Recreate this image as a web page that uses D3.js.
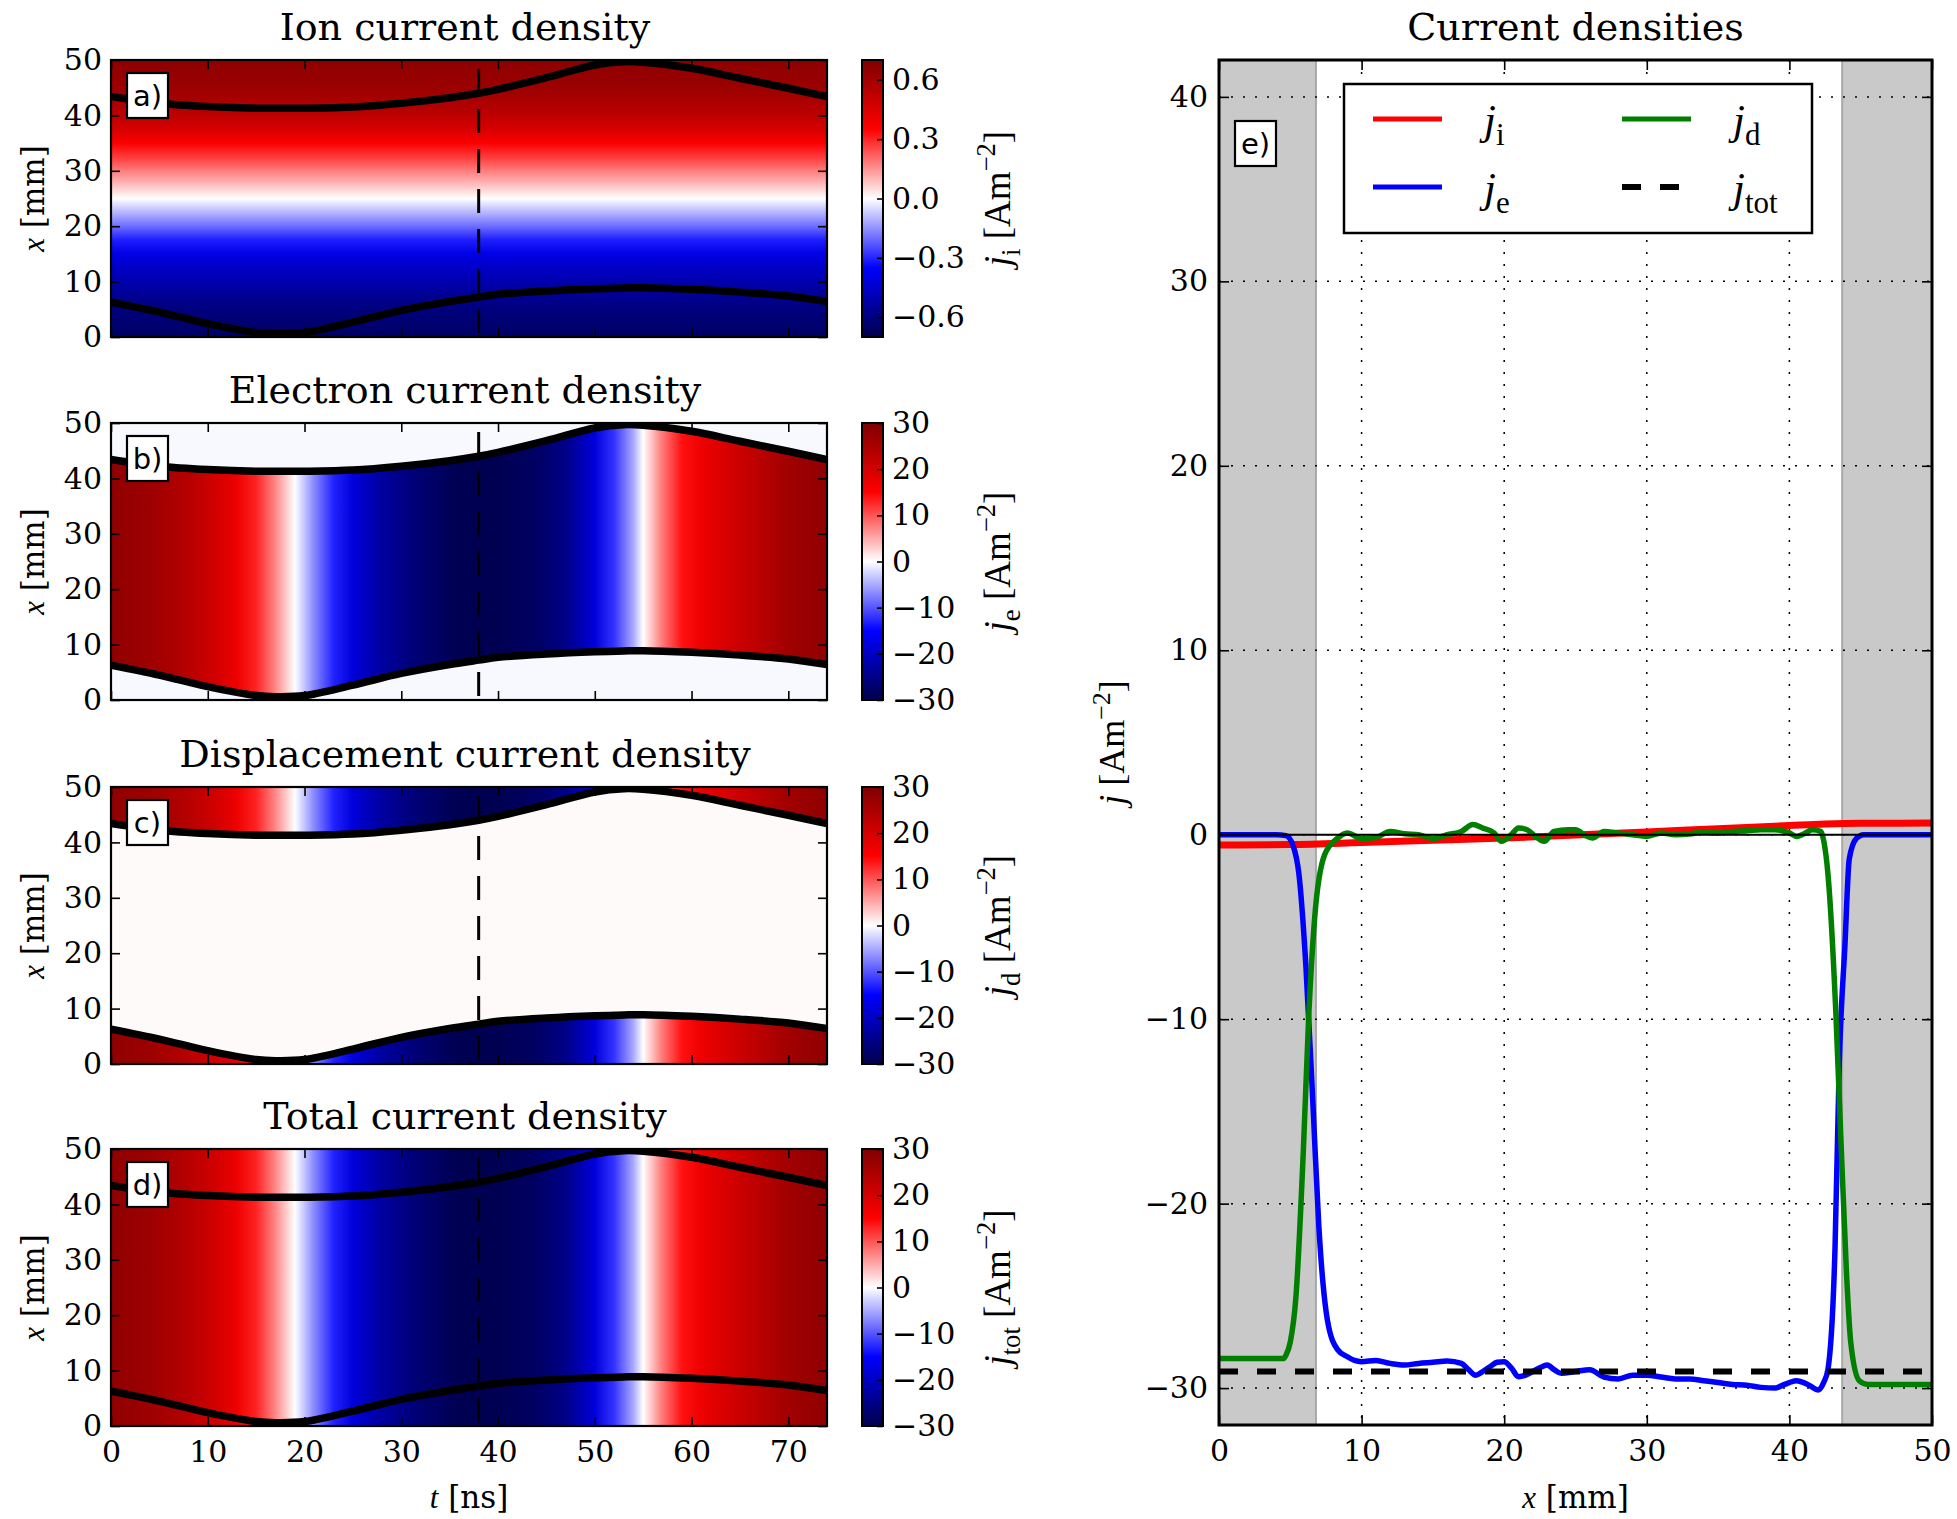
<!DOCTYPE html>
<html>
<head>
<meta charset="utf-8">
<script src="https://cdn.jsdelivr.net/npm/d3@7"></script>
<style>
  body { margin: 0; background: #ffffff; }
  svg { display: block; }
  text { white-space: pre; }
</style>
</head>
<body>
<svg id="fig" width="1957" height="1519"></svg>
<script>
// ---------- axes of the space–time maps (panels a–d) ----------
const tDomain = [0, 74];            // time [ns]
const xDomain = [0, 50];            // position [mm]
const tTicks = [0, 10, 20, 30, 40, 50, 60, 70];
const xTicks = [0, 10, 20, 30, 40, 50];
const tSnapshot = 38;               // time of the profile in panel e

// ---------- sheath edges ----------
const sheathT    = [0, 5, 10, 15, 17, 20, 25, 30, 35, 38, 40, 45, 50, 53, 55, 60, 65, 70, 74];
const sheathLow  = [6.3, 4.5, 2.4, 0.8, 0.6, 0.8, 2.7, 4.8, 6.4, 7.2, 7.7, 8.3, 8.7, 8.85, 8.9, 8.6, 8.1, 7.4, 6.4];
const sheathHigh = [43.4, 42.2, 41.6, 41.3, 41.3, 41.3, 41.5, 42.2, 43.2, 44.0, 44.7, 46.8, 49.1, 49.7, 49.6, 48.5, 46.7, 44.9, 43.4];

// ---------- total current density vs time [A m^-2] ----------
const totT = [0, 4, 8, 11, 13, 15, 17, 19, 21, 23, 25, 28, 32, 36, 40, 44, 47, 50, 52, 54, 55, 57, 59, 61, 64, 67, 70, 74];
const totJ = [28, 26.5, 23.5, 20, 17, 13, 7, 0, -7, -13, -18, -23, -27, -29.5, -29.5, -28, -25, -18, -12, -5, 0, 8, 14, 17, 20, 23, 26, 28];

// ---------- ion current density vs position [A m^-2] ----------
const ionX = [0, 2.5, 5, 7.5, 10, 12.5, 15, 17.5, 20, 22.5, 25, 27.5, 30, 32.5, 35, 37.5, 40, 42.5, 45, 47.5, 50];
const ionJ = [-0.65, -0.63, -0.6, -0.56, -0.51, -0.46, -0.40, -0.31, -0.2, -0.1, 0.0, 0.09, 0.18, 0.27, 0.36, 0.46, 0.53, 0.58, 0.62, 0.64, 0.66];

// residual levels: electron current in the sheaths, displacement current in the bulk
const jeOutside = -0.4;
const jdInside = 0.3;

const panelTitles = ["Ion current density", "Electron current density", "Displacement current density", "Total current density"];
const panelTags = ["a)", "b)", "c)", "d)"];
const cbarMax = [0.7, 30, 30, 30];
const cbarTicksIon = [-0.6, -0.3, 0.0, 0.3, 0.6];
const cbarTicksJ = [-30, -20, -10, 0, 10, 20, 30];
const cbarSubs = ["i", "e", "d", "tot"];

// ---------- panel e: profiles at t = 38 ns ----------
const eTitle = "Current densities";
const eXTicks = [0, 10, 20, 30, 40, 50];
const eYTicks = [-30, -20, -10, 0, 10, 20, 30, 40];
const eYDomain = [-32, 42];
const sheathBands = [[0, 6.8], [43.7, 50]];

const jiX = [0, 5, 10, 15, 20, 25, 30, 35, 40, 42.5, 45, 50];
const jiV = [-0.56, -0.53, -0.42, -0.3, -0.18, -0.02, 0.15, 0.33, 0.5, 0.58, 0.62, 0.63];

const jeX = [0, 4, 4.7, 5.2, 5.6, 6.1, 6.6, 7.0, 7.6, 8.3, 9.0, 9.5, 10, 11, 12, 13, 14, 15, 16, 17, 17.5, 18, 18.5, 19, 19.5, 20, 20.5, 21, 21.5, 22, 22.5, 23, 23.5, 24, 25, 26, 27, 28, 29, 30, 31, 32, 33, 34, 35, 36, 37, 38, 39, 39.5, 40, 40.5, 41, 41.5, 42, 42.4, 42.7, 43.2, 43.5, 43.9, 44.2, 44.7, 45.2, 50];
const jeV = [0, 0, -0.05, -0.6, -2.1, -7.2, -14.8, -21.2, -26.3, -27.9, -28.3, -28.5, -28.57, -28.5, -28.66, -28.75, -28.66, -28.6, -28.53, -28.66, -29.0, -29.3, -29.1, -28.84, -28.6, -28.57, -28.9, -29.38, -29.3, -29.1, -28.9, -28.75, -29.0, -29.2, -29.1, -29.0, -29.4, -29.5, -29.3, -29.3, -29.4, -29.5, -29.5, -29.6, -29.7, -29.8, -29.85, -29.96, -30.0, -29.85, -29.7, -29.6, -29.7, -29.9, -30.1, -29.7, -29.0, -22.4, -12.3, -5.9, -1.3, -0.2, 0, 0];

const jdX = [0, 4.5, 4.7, 5.0, 5.4, 5.9, 6.3, 6.7, 7.4, 8.3, 9, 10, 11, 12, 13, 14, 15, 16, 17, 17.8, 18.5, 19.3, 19.8, 20.5, 21, 21.6, 22.2, 22.8, 23.5, 24.5, 25, 25.7, 26.2, 27, 28, 29, 30, 31, 32, 33, 34, 35, 36, 37, 38, 39, 40, 40.5, 41, 41.6, 42.2, 42.4, 42.7, 43.26, 43.6, 44.0, 44.3, 44.9, 45.5, 50];
const jdV = [-28.4, -28.4, -28.2, -27.5, -25.0, -17.4, -9.7, -4.6, -1.1, -0.2, 0.09, -0.2, -0.15, 0.18, 0.05, 0, -0.2, 0, 0.18, 0.55, 0.36, 0.09, -0.36, 0, 0.36, 0.27, -0.09, -0.36, 0.18, 0.27, 0.27, -0.04, -0.18, 0.18, 0.09, 0, -0.09, 0.09, 0, 0.04, 0.15, 0.1, 0.18, 0.22, 0.27, 0.27, 0.1, -0.09, 0.04, 0.27, 0.18, -0.3, -2.1, -9.7, -16.3, -23.7, -27.5, -29.6, -29.8, -29.8];

const jtotX = [0, 50];
const jtotV = [-29.1, -29.1];

const legendItems = [
  { sub: "i",   color: "#ff0000", dash: null },
  { sub: "e",   color: "#0000ff", dash: null },
  { sub: "d",   color: "#007f00", dash: null },
  { sub: "tot", color: "#000000", dash: "19,19" }
];

// ---------- look ----------
const SERIF = "'DejaVu Serif', serif";
const MATH  = "'Liberation Serif', 'DejaVu Serif', serif";
const SANS  = "'DejaVu Sans', sans-serif";
const TICK_FS = 30, TITLE_FS = 38, LABEL_FS = 31, CBAR_LABEL_FS = 37;

// matplotlib "seismic" colormap anchors
const cmapStops  = [0, 0.25, 0.5, 0.75, 1];
const cmapColors = ["#00004c", "#0000ff", "#ffffff", "#ff0000", "#7f0000"];
function colorScale(vmax) {
  return d3.scaleLinear()
    .domain(cmapStops.map(s => (2 * s - 1) * vmax))
    .range(cmapColors)
    .interpolate(d3.interpolateRgb)
    .clamp(true);
}

const svg = d3.select("#fig");
const defs = svg.append("defs");
svg.append("rect").attr("width", 1957).attr("height", 1519).attr("fill", "#fff");

// text with italic symbol, sub- and superscripts
function richText(sel, parts, size) {
  let shift = 0;
  parts.forEach(p => {
    const target = p.sub ? size * 0.26 : p.sup ? -size * 0.4 : 0;
    sel.append("tspan")
      .text(p.t)
      .attr("font-family", p.math ? MATH : SERIF)
      .attr("font-style", p.it ? "italic" : "normal")
      .attr("font-size", (p.sub || p.sup) ? size * 0.72 : size)
      .attr("dy", target - shift);
    shift = target;
  });
}

function styleAxis(g, size) {
  g.select(".domain").remove();
  g.attr("font-size", size).attr("font-family", SERIF);
  g.selectAll(".tick line").attr("stroke", "#000").attr("stroke-width", 1.6);
  g.selectAll(".tick text").attr("fill", "#000");
}

function tagBox(x, y, label) {
  svg.append("rect").attr("x", x).attr("y", y).attr("width", 41).attr("height", 45)
    .attr("fill", "#fff").attr("stroke", "#000").attr("stroke-width", 2.2);
  svg.append("text").attr("x", x + 20.5).attr("y", y + 33)
    .attr("text-anchor", "middle").attr("font-family", SANS).attr("font-size", 29)
    .text(label);
}

// ---------- panels a–d ----------
const LEFT = { x0: 111, x1: 827, tops: [60, 423, 787, 1149], h: 277, cbX: 862, cbW: 21 };
const sheath = sheathT.map((t, k) => ({ t, lo: sheathLow[k], hi: sheathHigh[k] }));
const totSeries = totT.map((t, k) => ({ t, v: totJ[k] }));
const ionSeries = ionX.map((x, k) => ({ x, v: ionJ[k] }));

for (let i = 0; i < 4; i++) {
  const top = LEFT.tops[i], bottom = top + LEFT.h;
  const sx = d3.scaleLinear().domain(tDomain).range([LEFT.x0, LEFT.x1]);
  const sy = d3.scaleLinear().domain(xDomain).range([bottom, top]);
  const cs = colorScale(cbarMax[i]);
  const W = LEFT.x1 - LEFT.x0;

  const clipId = "plotclip" + i;
  defs.append("clipPath").attr("id", clipId)
    .append("rect").attr("x", LEFT.x0).attr("y", top).attr("width", W).attr("height", LEFT.h);
  const g = svg.append("g").attr("clip-path", `url(#${clipId})`);

  const area = d3.area().x(d => sx(d.t)).y0(d => sy(d.lo)).y1(d => sy(d.hi)).curve(d3.curveCatmullRom);

  if (i === 0) {
    // ion current: profile along x
    const gid = "iongrad";
    const grad = defs.append("linearGradient").attr("id", gid)
      .attr("gradientUnits", "userSpaceOnUse")
      .attr("x1", 0).attr("x2", 0).attr("y1", sy(xDomain[0])).attr("y2", sy(xDomain[1]));
    grad.selectAll("stop").data(ionSeries).join("stop")
      .attr("offset", d => (sy(d.x) - sy(xDomain[0])) / (sy(xDomain[1]) - sy(xDomain[0])))
      .attr("stop-color", d => cs(d.v));
    g.append("rect").attr("x", LEFT.x0).attr("y", top).attr("width", W).attr("height", LEFT.h)
      .attr("fill", `url(#${gid})`);
  } else {
    // total current: function of time only
    const gid = "totgrad" + i;
    const grad = defs.append("linearGradient").attr("id", gid)
      .attr("gradientUnits", "userSpaceOnUse")
      .attr("x1", sx(tDomain[0])).attr("x2", sx(tDomain[1])).attr("y1", 0).attr("y2", 0);
    grad.selectAll("stop").data(totSeries).join("stop")
      .attr("offset", d => (sx(d.t) - sx(tDomain[0])) / (sx(tDomain[1]) - sx(tDomain[0])))
      .attr("stop-color", d => cs(d.v));

    if (i === 1) {
      // electron current flows in the bulk plasma only
      g.append("rect").attr("x", LEFT.x0).attr("y", top).attr("width", W).attr("height", LEFT.h)
        .attr("fill", cs(jeOutside));
      defs.append("clipPath").attr("id", "bulk" + i).append("path").attr("d", area(sheath));
      g.append("rect").attr("x", LEFT.x0).attr("y", top).attr("width", W).attr("height", LEFT.h)
        .attr("fill", `url(#${gid})`).attr("clip-path", `url(#bulk${i})`);
    } else if (i === 2) {
      // displacement current flows in the sheaths only
      g.append("rect").attr("x", LEFT.x0).attr("y", top).attr("width", W).attr("height", LEFT.h)
        .attr("fill", `url(#${gid})`);
      g.append("path").attr("d", area(sheath)).attr("fill", cs(jdInside));
    } else {
      g.append("rect").attr("x", LEFT.x0).attr("y", top).attr("width", W).attr("height", LEFT.h)
        .attr("fill", `url(#${gid})`);
    }
  }

  // sheath edges
  [d => d.lo, d => d.hi].forEach(acc => {
    g.append("path").datum(sheath)
      .attr("d", d3.line().x(d => sx(d.t)).y(d => sy(acc(d))).curve(d3.curveCatmullRom))
      .attr("fill", "none").attr("stroke", "#000").attr("stroke-width", 7.5);
  });

  // snapshot time
  g.append("line").attr("x1", sx(tSnapshot)).attr("x2", sx(tSnapshot))
    .attr("y1", sy(xDomain[0])).attr("y2", sy(xDomain[1]))
    .attr("stroke", "#000").attr("stroke-width", 3).attr("stroke-dasharray", "24,16")
    .attr("stroke-dashoffset", -4);

  // axes (ticks inside on all sides)
  svg.append("g").attr("transform", `translate(0,${bottom})`)
    .call(d3.axisBottom(sx).tickValues(tTicks).tickSize(-9).tickSizeOuter(0).tickPadding(15)
      .tickFormat(i === 3 ? d3.format("d") : () => ""))
    .call(g2 => styleAxis(g2, TICK_FS));
  svg.append("g").attr("transform", `translate(0,${top})`)
    .call(d3.axisTop(sx).tickValues(tTicks).tickSize(-9).tickSizeOuter(0).tickFormat(() => ""))
    .call(g2 => styleAxis(g2, TICK_FS));
  svg.append("g").attr("transform", `translate(${LEFT.x0},0)`)
    .call(d3.axisLeft(sy).tickValues(xTicks).tickSize(-9).tickSizeOuter(0).tickPadding(9)
      .tickFormat(d3.format("d")))
    .call(g2 => styleAxis(g2, TICK_FS));
  svg.append("g").attr("transform", `translate(${LEFT.x1},0)`)
    .call(d3.axisRight(sy).tickValues(xTicks).tickSize(-9).tickSizeOuter(0).tickFormat(() => ""))
    .call(g2 => styleAxis(g2, TICK_FS));

  svg.append("rect").attr("x", LEFT.x0).attr("y", top).attr("width", W).attr("height", LEFT.h)
    .attr("fill", "none").attr("stroke", "#000").attr("stroke-width", 2.2);

  // title
  svg.append("text").attr("x", (LEFT.x0 + LEFT.x1) / 2 - 4).attr("y", top - 20)
    .attr("text-anchor", "middle").attr("font-family", SERIF).attr("font-size", TITLE_FS)
    .text(panelTitles[i]);

  // y label
  const yl = svg.append("text").attr("text-anchor", "middle")
    .attr("transform", `translate(44,${(top + bottom) / 2}) rotate(-90)`);
  richText(yl, [{ t: "x", it: true, math: true }, { t: " [mm]" }], LABEL_FS);

  tagBox(LEFT.x0 + 16, top + 13, panelTags[i]);

  // colorbar
  const vmax = cbarMax[i];
  const cb = d3.scaleLinear().domain([-vmax, vmax]).range([bottom, top]);
  const cgid = "cbgrad" + i;
  const cgrad = defs.append("linearGradient").attr("id", cgid)
    .attr("gradientUnits", "userSpaceOnUse")
    .attr("x1", 0).attr("x2", 0).attr("y1", cb(-vmax)).attr("y2", cb(vmax));
  cgrad.selectAll("stop").data(cmapStops).join("stop")
    .attr("offset", d => d)
    .attr("stop-color", d => cs((2 * d - 1) * vmax));
  svg.append("rect").attr("x", LEFT.cbX).attr("y", top).attr("width", LEFT.cbW).attr("height", LEFT.h)
    .attr("fill", `url(#${cgid})`);
  svg.append("g").attr("transform", `translate(${LEFT.cbX + LEFT.cbW},0)`)
    .call(d3.axisRight(cb).tickValues(i === 0 ? cbarTicksIon : cbarTicksJ).tickSize(-6).tickSizeOuter(0)
      .tickPadding(9).tickFormat(i === 0 ? d3.format(".1f") : d3.format("d")))
    .call(g2 => styleAxis(g2, TICK_FS));
  svg.append("rect").attr("x", LEFT.cbX).attr("y", top).attr("width", LEFT.cbW).attr("height", LEFT.h)
    .attr("fill", "none").attr("stroke", "#000").attr("stroke-width", 2);
  const cl = svg.append("text").attr("text-anchor", "middle")
    .attr("transform", `translate(1010,${(top + bottom) / 2}) rotate(-90)`);
  richText(cl, [
    { t: "j", it: true, math: true }, { t: cbarSubs[i], sub: true, math: true },
    { t: " [Am", math: true }, { t: "\u22122", sup: true, math: true }, { t: "]", math: true }
  ], CBAR_LABEL_FS);
}

// time axis label
{
  const tl = svg.append("text").attr("x", (LEFT.x0 + LEFT.x1) / 2).attr("y", 1508).attr("text-anchor", "middle");
  richText(tl, [{ t: "t", it: true, math: true }, { t: " [ns]" }], LABEL_FS);
}

// ---------- panel e ----------
const E = { x0: 1219, x1: 1932, y0: 60, y1: 1425 };
const ex = d3.scaleLinear().domain(xDomain).range([E.x0, E.x1]);
const ey = d3.scaleLinear().domain(eYDomain).range([E.y1, E.y0]);

defs.append("clipPath").attr("id", "eclip")
  .append("rect").attr("x", E.x0).attr("y", E.y0).attr("width", E.x1 - E.x0).attr("height", E.y1 - E.y0);
const eg = svg.append("g").attr("clip-path", "url(#eclip)");

// sheath regions
eg.selectAll("rect.band").data(sheathBands).join("rect").attr("class", "band")
  .attr("x", d => ex(d[0])).attr("width", d => ex(d[1]) - ex(d[0]))
  .attr("y", E.y0).attr("height", E.y1 - E.y0)
  .attr("fill", "#c9c9c9");
eg.selectAll("line.bandedge").data(sheathBands.map(d => d[0] === xDomain[0] ? d[1] : d[0])).join("line")
  .attr("class", "bandedge")
  .attr("x1", d => ex(d)).attr("x2", d => ex(d)).attr("y1", E.y0).attr("y2", E.y1)
  .attr("stroke", "#a9a9a9").attr("stroke-width", 2);

// dotted grid
eg.selectAll("line.gx").data(eXTicks.slice(1, -1)).join("line").attr("class", "gx")
  .attr("x1", d => ex(d)).attr("x2", d => ex(d)).attr("y1", E.y0).attr("y2", E.y1)
  .attr("stroke", "#000").attr("stroke-width", 1.5).attr("stroke-dasharray", "2,10");
eg.selectAll("line.gy").data(eYTicks).join("line").attr("class", "gy")
  .attr("x1", E.x0).attr("x2", E.x1).attr("y1", d => ey(d)).attr("y2", d => ey(d))
  .attr("stroke", "#000").attr("stroke-width", 1.5).attr("stroke-dasharray", "2,10");

const eLine = d3.line().x(d => ex(d.x)).y(d => ey(d.v)).curve(d3.curveMonotoneX);
const toPts = (xs, vs) => xs.map((x, k) => ({ x, v: vs[k] }));
eg.append("path").datum(toPts(jiX, jiV)).attr("d", eLine)
  .attr("fill", "none").attr("stroke", legendItems[0].color).attr("stroke-width", 7);
eg.append("path").datum(toPts(jeX, jeV)).attr("d", eLine)
  .attr("fill", "none").attr("stroke", legendItems[1].color).attr("stroke-width", 5.5);
eg.append("path").datum(toPts(jdX, jdV)).attr("d", eLine)
  .attr("fill", "none").attr("stroke", legendItems[2].color).attr("stroke-width", 5.5);
eg.append("path").datum(toPts(jtotX, jtotV)).attr("d", eLine)
  .attr("fill", "none").attr("stroke", legendItems[3].color).attr("stroke-width", 6)
  .attr("stroke-dasharray", legendItems[3].dash);
// zero reference
eg.append("line").attr("x1", E.x0).attr("x2", E.x1).attr("y1", ey(0)).attr("y2", ey(0))
  .attr("stroke", "#000").attr("stroke-width", 2);

// axes
svg.append("g").attr("transform", `translate(0,${E.y1})`)
  .call(d3.axisBottom(ex).tickValues(eXTicks).tickSize(-10).tickSizeOuter(0).tickPadding(15).tickFormat(d3.format("d")))
  .call(g2 => styleAxis(g2, TICK_FS));
svg.append("g").attr("transform", `translate(0,${E.y0})`)
  .call(d3.axisTop(ex).tickValues(eXTicks).tickSize(-10).tickSizeOuter(0).tickFormat(() => ""))
  .call(g2 => styleAxis(g2, TICK_FS));
svg.append("g").attr("transform", `translate(${E.x0},0)`)
  .call(d3.axisLeft(ey).tickValues(eYTicks).tickSize(-10).tickSizeOuter(0).tickPadding(11).tickFormat(d3.format("d")))
  .call(g2 => styleAxis(g2, TICK_FS));
svg.append("g").attr("transform", `translate(${E.x1},0)`)
  .call(d3.axisRight(ey).tickValues(eYTicks).tickSize(-10).tickSizeOuter(0).tickFormat(() => ""))
  .call(g2 => styleAxis(g2, TICK_FS));
svg.append("rect").attr("x", E.x0).attr("y", E.y0).attr("width", E.x1 - E.x0).attr("height", E.y1 - E.y0)
  .attr("fill", "none").attr("stroke", "#000").attr("stroke-width", 3);

svg.append("text").attr("x", (E.x0 + E.x1) / 2).attr("y", E.y0 - 20)
  .attr("text-anchor", "middle").attr("font-family", SERIF).attr("font-size", TITLE_FS).text(eTitle);
{
  const xl = svg.append("text").attr("x", (E.x0 + E.x1) / 2).attr("y", 1508).attr("text-anchor", "middle");
  richText(xl, [{ t: "x", it: true, math: true }, { t: " [mm]" }], LABEL_FS);
  const yl = svg.append("text").attr("text-anchor", "middle")
    .attr("transform", `translate(1124,${(E.y0 + E.y1) / 2}) rotate(-90)`);
  richText(yl, [
    { t: "j", it: true, math: true }, { t: " [Am", math: true },
    { t: "\u22122", sup: true, math: true }, { t: "]", math: true }
  ], 36);
}

// legend (two columns: i, e | d, tot)
{
  const lg = svg.append("g");
  lg.append("rect").attr("x", 1344).attr("y", 84).attr("width", 468).attr("height", 149)
    .attr("fill", "#fff").attr("stroke", "#000").attr("stroke-width", 2.5);
  const cols = [1373, 1622], rows = [119, 187];
  legendItems.forEach((it, k) => {
    const cx = cols[k < 2 ? 0 : 1], cy = rows[k % 2];
    lg.append("line").attr("x1", cx).attr("x2", cx + 69).attr("y1", cy).attr("y2", cy)
      .attr("stroke", it.color).attr("stroke-width", it.dash ? 6 : 5)
      .attr("stroke-dasharray", it.dash);
    const t = lg.append("text").attr("x", cx + 111).attr("y", cy + 15);
    richText(t, [{ t: "j", it: true, math: true }, { t: it.sub, sub: true, math: true }], 43);
  });
}

tagBox(1235, 121, "e)");
</script>
</body>
</html>
